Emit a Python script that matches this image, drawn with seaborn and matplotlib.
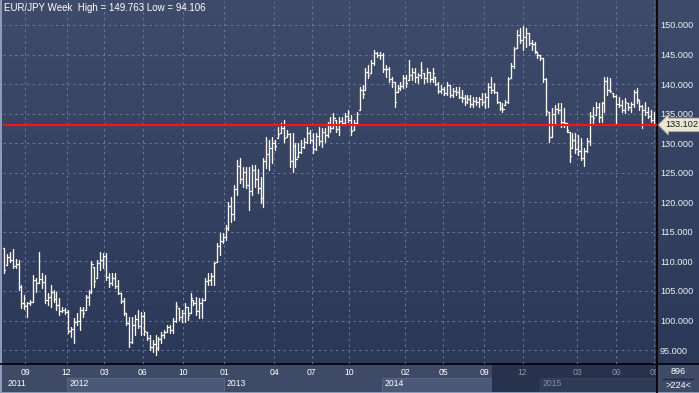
import numpy as np
import pandas as pd
import matplotlib
matplotlib.use("Agg")
import matplotlib.pyplot as plt
import seaborn as sns
from matplotlib.patches import Rectangle
from matplotlib.transforms import blended_transform_factory, Bbox, TransformedBbox
from matplotlib.colors import LinearSegmentedColormap

# weekly EUR/JPY bars
high = [
    112.33, 111.2, 111.65, 112.1, 110.41, 110.24, 106.01, 104.32, 103.19, 103.47,
    107.7, 107.14, 111.65, 107.98, 107.7, 104.6, 106.01, 105.16, 104.88, 103.75,
    102.34, 102.05, 101.78, 98.96, 100.37, 101.22, 102.34, 102.34, 104.32, 105.16,
    110.0, 109.11, 110.24, 111.65, 111.37, 111.37, 107.98, 107.98, 107.98, 106.86,
    104.6, 103.75, 101.22, 100.65, 100.65, 100.93, 101.78, 101.5, 101.5, 98.11,
    97.55, 96.7, 97.55, 97.27, 98.11, 98.4, 99.24, 99.24, 100.37, 103.19,
    102.06, 101.78, 102.9, 102.34, 104.6, 103.47, 104.03, 103.75, 103.75, 107.14,
    107.98, 107.98, 109.96, 113.06, 114.75, 114.75, 116.16, 120.11, 120.95, 122.93,
    127.16, 127.44, 126.03, 126.03, 126.03, 126.31, 126.31, 125.61, 124.34, 127.44,
    131.11, 130.54, 131.11, 130.54, 132.8, 133.36, 133.93, 132.23, 131.67, 131.67,
    129.98, 129.98, 130.54, 130.82, 132.8, 132.23, 131.67, 131.67, 132.8, 132.52,
    132.52, 133.64, 134.49, 135.06, 133.93, 134.49, 134.49, 135.06, 135.62, 134.77,
    133.93, 135.34, 139.57, 139.85, 142.67, 143.23, 144.08, 145.77, 145.49, 145.49,
    145.21, 143.23, 142.95, 141.26, 140.41, 139.85, 140.41, 141.54, 141.54, 144.08,
    142.67, 142.67, 141.82, 143.8, 141.82, 142.67, 142.11, 142.67, 141.26, 140.41,
    139.85, 139.57, 140.41, 139.85, 139.29, 139.57, 139.57, 139.0, 138.16, 138.16,
    138.16, 137.88, 137.88, 137.88, 138.44, 138.44, 140.13, 141.26, 140.13, 138.72,
    137.03, 136.74, 137.31, 141.26, 143.51, 146.33, 149.15, 149.43, 149.763, 149.5,
    148.59, 147.46, 147.18, 145.49, 144.92, 144.36, 140.97, 135.33, 135.9, 136.46,
    136.74, 136.74, 135.9, 133.36, 131.95, 131.67, 131.67, 131.39, 130.82, 129.13,
    130.82, 135.33, 136.18, 137.03, 136.74, 137.03, 141.26, 141.26, 140.97, 138.44,
    138.15, 137.87, 137.31, 137.59, 136.74, 137.03, 139.0, 139.28, 137.31, 136.46,
    137.03, 136.18, 135.62, 135.33,
]
low = [
    107.98, 109.39, 109.96, 108.83, 108.83, 105.16, 102.17, 101.95, 100.65, 102.63,
    103.19, 104.88, 106.29, 105.45, 102.91, 102.63, 102.34, 103.19, 101.78, 100.93,
    101.38, 101.05, 97.83, 97.27, 96.14, 99.24, 98.4, 100.65, 101.78, 102.63,
    104.6, 105.73, 107.14, 108.55, 108.83, 106.86, 105.73, 106.01, 105.45, 104.43,
    102.91, 100.93, 99.24, 95.58, 96.14, 97.55, 98.68, 97.55, 97.55, 96.7,
    95.01, 94.73, 94.106, 95.01, 96.14, 96.99, 98.11, 97.83, 97.83, 99.8,
    100.08, 99.8, 99.8, 100.08, 101.21, 102.62, 100.93, 100.37, 100.37, 103.47,
    106.01, 106.01, 106.01, 109.96, 111.08, 113.06, 113.62, 115.31, 116.72, 117.01,
    121.24, 123.21, 122.65, 122.36, 118.7, 121.24, 122.65, 121.52, 119.83, 119.26,
    125.75, 125.47, 126.59, 128.85, 130.82, 131.67, 130.26, 131.11, 126.03, 125.18,
    126.03, 127.72, 128.29, 129.13, 129.98, 129.98, 128.29, 128.85, 129.7, 129.41,
    130.26, 131.11, 131.95, 132.52, 131.95, 131.39, 133.08, 133.08, 133.65, 131.39,
    132.24, 133.08, 135.62, 137.59, 139.0, 140.98, 141.82, 143.23, 144.64, 144.3,
    142.11, 141.26, 140.41, 139.57, 136.18, 138.72, 139.0, 139.29, 139.57, 140.7,
    140.7, 140.41, 140.13, 140.98, 140.13, 140.41, 140.41, 140.41, 139.85, 138.44,
    138.44, 138.16, 138.16, 137.88, 137.88, 138.16, 137.59, 137.03, 136.47, 136.75,
    136.18, 136.18, 136.47, 136.18, 136.47, 135.9, 136.18, 138.44, 138.44, 136.74,
    135.62, 135.33, 136.46, 136.74, 140.97, 142.67, 146.05, 146.9, 145.77, 146.33,
    146.61, 145.77, 145.2, 144.36, 144.08, 140.41, 134.77, 130.26, 131.1, 133.08,
    135.05, 132.8, 132.8, 131.95, 126.87, 129.13, 128.28, 128.0, 127.16, 126.1,
    128.57, 129.69, 133.36, 134.77, 133.64, 133.64, 135.33, 138.15, 138.72, 137.87,
    133.36, 136.18, 135.33, 135.05, 135.62, 135.33, 136.18, 136.74, 135.62, 132.51,
    134.77, 134.21, 133.64, 133.1,
]
close = [
    108.6, 110.8, 110.2, 109.3, 109.6, 105.6, 103.0, 102.5, 102.9, 103.2,
    106.8, 106.3, 107.0, 106.5, 103.5, 104.0, 104.8, 103.6, 102.6, 101.6,
    101.7, 101.4, 98.3, 98.5, 99.8, 100.0, 101.8, 101.3, 103.9, 104.9,
    109.5, 106.6, 109.8, 110.3, 110.9, 107.4, 106.4, 107.2, 105.9, 104.7,
    103.3, 101.3, 99.6, 96.3, 99.3, 100.2, 99.0, 100.8, 98.2, 97.1,
    95.6, 96.1, 95.3, 96.8, 97.6, 98.0, 98.9, 98.4, 99.9, 102.4,
    100.6, 101.2, 102.3, 101.0, 103.8, 103.0, 101.6, 103.0, 103.5, 106.6,
    106.9, 107.5, 109.7, 112.6, 113.5, 114.2, 115.6, 119.4, 118.0, 122.3,
    126.1, 124.0, 125.2, 123.0, 121.9, 125.4, 124.0, 122.5, 120.8, 127.0,
    128.2, 129.2, 130.0, 129.6, 131.5, 132.5, 130.9, 131.5, 127.0, 129.5,
    127.3, 128.5, 129.4, 130.2, 131.8, 130.6, 129.0, 131.2, 130.4, 131.9,
    131.4, 133.2, 132.5, 134.3, 132.4, 133.8, 133.5, 134.6, 134.0, 132.0,
    133.5, 135.0, 139.0, 138.3, 142.0, 141.6, 143.5, 145.2, 144.9, 145.0,
    142.5, 142.6, 140.8, 140.3, 137.0, 139.4, 139.6, 141.0, 140.2, 141.5,
    142.0, 141.2, 141.5, 142.4, 141.0, 142.1, 140.9, 141.8, 140.0, 138.9,
    139.2, 138.5, 139.8, 138.2, 138.8, 138.6, 137.9, 137.6, 136.9, 137.5,
    136.6, 137.2, 136.9, 137.4, 137.0, 137.8, 139.5, 139.0, 138.6, 137.0,
    136.0, 135.8, 137.0, 140.8, 143.0, 145.9, 148.3, 147.5, 147.9, 148.6,
    147.0, 146.8, 145.6, 145.0, 144.4, 140.9, 135.4, 131.0, 134.9, 135.8,
    135.6, 133.6, 133.4, 132.3, 127.8, 130.5, 129.0, 128.6, 127.5, 128.7,
    130.3, 134.6, 134.2, 136.1, 134.5, 136.8, 140.6, 139.0, 138.9, 138.0,
    136.6, 136.5, 135.7, 137.0, 136.2, 136.7, 138.6, 137.4, 136.3, 135.6,
    135.2, 134.6, 134.0, 133.102,
]
first_open = 112.2
last_price = 133.102

# axis labels
tick_bars = [7.2, 21.5, 34.4, 47.6, 61.5, 75.6, 92.7, 105.6, 118.5,
             137.6, 150.7, 164.7, 177.9, 196.7, 210.0, 223.0]
tick_labels = ["09", "12", "03", "06", "10", "01", "04", "07", "10",
               "02", "05", "09", "12", "03", "06", "09"]
year_starts = [0.35, 21.6, 75.5, 129.7, 183.9]
year_labels = ["2011", "2012", "2013", "2014", "2015"]
y_ticks = [95, 100, 105, 110, 115, 120, 125, 130, 135, 140, 145, 150]
dark_start = 167.4

sns.set_style("dark")
plt.rcParams["font.family"] = ["Liberation Sans", "DejaVu Sans"]

W, H = 699, 393
fig = plt.figure(figsize=(W / 100, H / 100), dpi=100)

# background layer, pixel units
bg = fig.add_axes([0, 0, 1, 1])
cmap = LinearSegmentedColormap.from_list("bg", ["#3f4b6a", "#2c3857"])
bg.imshow(np.linspace(0, 1, 256).reshape(-1, 1), cmap=cmap,
          extent=(0, W, 364, 0), aspect="auto")
bg.add_patch(Rectangle((0, 364), W, H - 364, color="#3e4a66", lw=0))
bg.set_xlim(0, W)
bg.set_ylim(H, 0)
bg.axis("off")

ax = fig.add_axes([3 / W, (H - 364) / H, 653.5 / W, 363 / H])
ax.set_facecolor("none")

# OHLC bars as little line segments
n = len(high)
opens = np.clip(np.r_[first_open, close[:-1]], low, high)
rows = []
for i in range(n):
    rows += [(3 * i, i, low[i]), (3 * i, i, high[i]),
             (3 * i + 1, i - 0.38, opens[i]), (3 * i + 1, i, opens[i]),
             (3 * i + 2, i, close[i]), (3 * i + 2, i + 0.38, close[i])]
segs = pd.DataFrame(rows, columns=["seg", "x", "y"])
sns.lineplot(data=segs, x="x", y="y", units="seg", estimator=None, sort=False,
             color="#fbf8f2", lw=0.95, ax=ax, legend=False, zorder=3)

ax.axhline(last_price, color="#ff1414", lw=1.5, zorder=4)

ax.set_xlim(-0.34, 223.84)
ax.set_ylim(92.64, 154.06)
ax.set_xlabel("")
ax.set_ylabel("")
ax.set_xticks(tick_bars)
ax.set_xticklabels(tick_labels)
ax.yaxis.tick_right()
ax.set_yticks(y_ticks)
ax.set_yticklabels([f"{v:.3f}" for v in y_ticks])
ax.tick_params(axis="x", length=0, pad=3, labelsize=6.2, labelcolor="white")
ax.tick_params(axis="y", length=0, pad=2.5, labelsize=6.6, labelcolor="#eef2f8")
ax.grid(True, color="#6a79a0", lw=0.7, ls=(0, (2.5, 3.5)))
for s in ax.spines.values():
    s.set_visible(False)

clip = TransformedBbox(Bbox([[0, 0], [656 / W, 1]]), fig.transFigure)
for b, lab in zip(tick_bars, ax.get_xticklabels()):
    if b > dark_start:
        lab.set_color("#8a93aa")
    lab.set_clip_box(clip)
    lab.set_clip_on(True)

# bottom date strip
tr = blended_transform_factory(ax.transData, bg.transData)
for a, b in [(21.6, 75.5), (129.7, dark_start)]:
    bg.add_patch(Rectangle((a, 378), b - a, 13.5, transform=tr,
                           fc="#4b5876", ec="#5e6b8a", lw=0.6))
bg.add_patch(Rectangle((dark_start, 364), 223.84 - dark_start, 27.5,
                       transform=tr, color="#28324c", lw=0))
bg.add_patch(Rectangle((183.9, 378), 223.84 - 183.9, 13.5, transform=tr,
                       fc="#2f3a55", ec="#3a4562", lw=0.6))
for b, lab in zip(year_starts, year_labels):
    col = "#8a93aa" if b > dark_start else "white"
    bg.text(b + 1.0, 384, lab, transform=tr, color=col, fontsize=6.2,
            va="center", ha="left")

bg.plot([0, W], [364, 364], color="black", lw=1.2)
bg.plot([656.5, 656.5], [0, H], color="black", lw=1.2)
bg.add_patch(Rectangle((0, 0), 1.5, H, color="#8e9bb8", lw=0))
bg.add_patch(Rectangle((0, 391.5), W, 1.5, color="#8e9bb8", lw=0))
bg.text(678, 372, "896", ha="center", va="center", color="white", fontsize=6.6)
bg.plot([663, 693], [378.5, 378.5], color="#1f283e", lw=1)
bg.text(678, 385.5, ">224<", ha="center", va="center", color="white", fontsize=6.6)

# price marker at right
ax.text(1.014, last_price, f"{last_price:.3f}",
        transform=blended_transform_factory(ax.transAxes, ax.transData),
        fontsize=6.6, color="#1a1a1a", va="center", ha="left", zorder=6,
        clip_on=False,
        bbox=dict(boxstyle="larrow,pad=0.25", fc="#e9e7d3", ec="#a9a89a", lw=0.6))

fig.text(4 / W, 1 - 3 / H, "EUR/JPY Week  High = 149.763 Low = 94.106",
         color="white", fontsize=7, va="top", ha="left")

fig.savefig("out.png", dpi=100)
